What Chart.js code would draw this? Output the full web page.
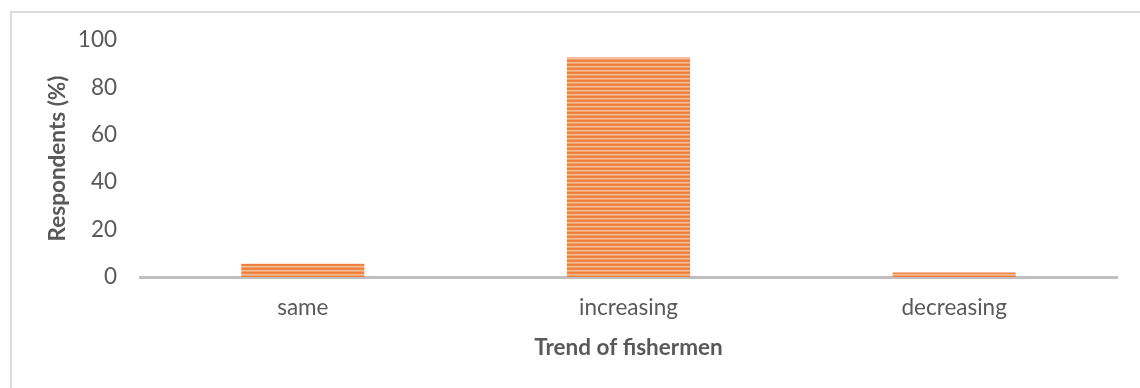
<!DOCTYPE html>
<html>
<head>
<meta charset="utf-8">
<script src="https://cdn.jsdelivr.net/npm/chart.js@4.4.1/dist/chart.umd.min.js"></script>
<style>
  html, body { margin: 0; padding: 0; background: #ffffff; overflow: hidden; }
  #wrap { position: relative; width: 1140px; height: 388px; overflow: hidden; }
  #frame { position: absolute; left: 10px; top: 11px; width: 1200px; height: 500px;
           border: 2px solid #DCDCDC; box-sizing: border-box; }
  #chart { position: absolute; left: 0; top: 0; }
</style>
</head>
<body>
<div id="wrap">
  <div id="frame"></div>
  <canvas id="chart" width="1140" height="388"></canvas>
</div>
<script>
// Share of respondents by perceived trend in the number of fishermen
const categories = ['same', 'increasing', 'decreasing'];
const respondents = [5.6, 92.6, 1.9];
const yMin = 0;
const yMax = 100;
const yStep = 20;

const axisTitleX = 'Trend of fishermen';
const axisTitleY = 'Respondents (%)';

const textColor = '#595959';
const fontFamily = 'Lato, "Open Sans", "Liberation Sans", sans-serif';
const tickSize = 22.5;
const titleSize = 22.5;

// Horizontal striped fill for the bars
function stripedFill() {
  const p = document.createElement('canvas');
  p.width = 8;
  p.height = 4;
  const c = p.getContext('2d');
  const rows = ['#EE7F3E', '#EF8747', '#F6BC93', '#F3A36E'];
  rows.forEach((col, i) => {
    c.fillStyle = col;
    c.fillRect(0, i, 8, 1);
  });
  return document.getElementById('chart').getContext('2d').createPattern(p, 'repeat');
}

const chart = new Chart(document.getElementById('chart'), {
  type: 'bar',
  data: {
    labels: categories,
    datasets: [{
      data: respondents,
      backgroundColor: stripedFill(),
      borderWidth: 0,
      barPercentage: 0.378,
      categoryPercentage: 1.0
    }]
  },
  options: {
    responsive: false,
    animation: false,
    devicePixelRatio: 1,
    layout: { padding: { top: 40, right: 23, bottom: 0, left: 0 } },
    plugins: {
      legend: { display: false },
      tooltip: { enabled: false }
    },
    scales: {
      x: {
        grid: { display: false, drawTicks: false },
        border: { display: true, color: '#BFBFBF', width: 3 },
        ticks: { color: textColor, font: { family: fontFamily, size: tickSize }, padding: 17 },
        title: {
          display: true,
          text: axisTitleX,
          color: textColor,
          font: { family: fontFamily, size: titleSize, weight: 'bold' },
          padding: { top: 0, bottom: 27 }
        },
        afterFit(scale) { scale.height = 111; }
      },
      y: {
        min: yMin,
        max: yMax,
        grid: { display: false, drawTicks: false },
        border: { display: false },
        ticks: { stepSize: yStep, color: textColor, font: { family: fontFamily, size: tickSize }, padding: 23 },
        title: {
          display: true,
          text: axisTitleY,
          color: textColor,
          font: { family: fontFamily, size: titleSize, weight: 'bold' },
          padding: { top: 44, bottom: 0 }
        },
        afterFit(scale) { scale.width = 140; }
      }
    }
  }
});
</script>
</body>
</html>
